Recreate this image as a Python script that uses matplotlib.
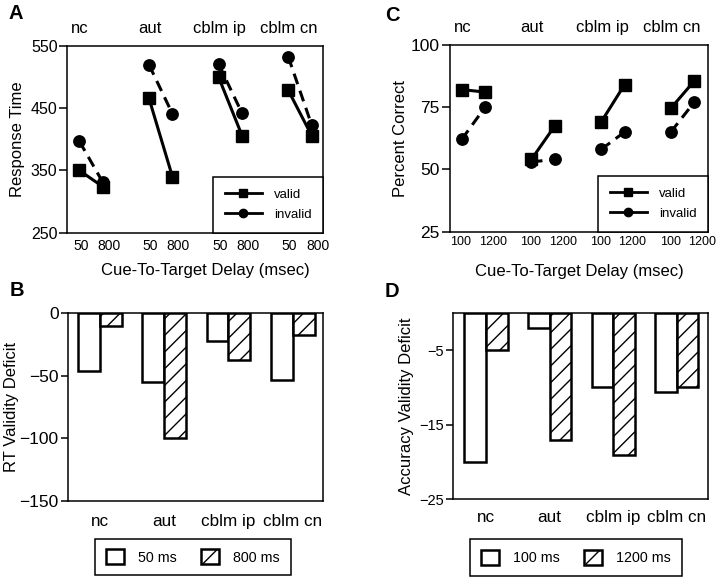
import matplotlib
matplotlib.use('Agg')
import matplotlib.pyplot as plt
import matplotlib.transforms as mtransforms
from matplotlib.lines import Line2D
import numpy as np

plt.rcParams['font.family'] = ['Liberation Sans', 'DejaVu Sans']
plt.rcParams['lines.scale_dashes'] = False
plt.rcParams['hatch.linewidth'] = 1.0
plt.rcParams['hatch.color'] = 'black'

# ---------------- data ----------------
groups = ['nc', 'aut', 'cblm ip', 'cblm cn']

rt_delays = ['50', '800']
rt_valid_short = [350, 466, 500, 479]
rt_valid_long = [324, 340, 406, 406]
rt_invalid_short = [397, 520, 521, 533]
rt_invalid_long = [331, 441, 442, 423]

acc_delays = ['100', '1200']
acc_valid_short = [82, 54, 69, 74.5]
acc_valid_long = [81, 67.5, 84, 85.5]
acc_invalid_short = [62, 53, 58, 65]
acc_invalid_long = [75, 54, 65, 77]

rt_deficit_50 = [-46, -55, -22, -53]
rt_deficit_800 = [-10, -100, -37, -17]
acc_deficit_100 = [-20, -2.1, -10, -10.6]
acc_deficit_1200 = [-5, -17, -19, -10]

# ---------------- layout ----------------
W, H = 720, 582
fig = plt.figure(figsize=(W / 100, H / 100), dpi=100)


def add_axes(l, t, r, b):
    return fig.add_axes([l / W, 1 - b / H, (r - l) / W, (b - t) / H])


axA = add_axes(67.3, 46, 323.3, 232.7)
axC = add_axes(449.7, 44.7, 708.3, 231.7)
axB = add_axes(67.7, 313.3, 323.3, 500.7)
axD = add_axes(453.3, 312.7, 708.3, 499.3)

OFF = 0.337
LW = 2.2
SPINE = 1.1


def style_spines(ax):
    for s in ax.spines.values():
        s.set_linewidth(SPINE)
        s.set_color('k')


def line_panel(ax, vs, vl, is_, il, delays, ylim, yticks, ylabel, xlim,
               ytick_size, xtick_size, xtick_pad, lab_shift, ylab_x, xlab_x,
               xlab_y, grp_y):
    for g in range(len(groups)):
        x = [g, g + OFF]
        ax.plot(x, [vs[g], vl[g]], color='k', lw=LW, marker='s', ms=8.5,
                mfc='k', mec='k', zorder=3)
        ax.plot(x, [is_[g], il[g]], color='k', lw=LW, ls=(0, (8, 5)),
                marker='o', ms=8.2, mfc='k', mec='k', zorder=4)
    ax.set_xlim(*xlim)
    ax.set_ylim(*ylim)
    ax.set_yticks(yticks)
    ticks = []
    labels = []
    for g in range(len(groups)):
        ticks += [g + lab_shift[0], g + OFF + lab_shift[1]]
        labels += delays
    ax.set_xticks(ticks)
    ax.set_xticklabels(labels)
    ax.tick_params(axis='x', length=0, pad=xtick_pad, labelsize=xtick_size)
    ax.tick_params(axis='y', direction='out', length=5.5, width=SPINE,
                   pad=1.5, labelsize=ytick_size)
    style_spines(ax)
    ax.set_ylabel(ylabel, fontsize=12)
    ax.yaxis.label.set_va('center')
    ax.yaxis.set_label_coords(ylab_x, 0.5)
    ax.set_xlabel('Cue-To-Target Delay (msec)', fontsize=12)
    ax.xaxis.label.set_va('baseline')
    ax.xaxis.set_label_coords(xlab_x, xlab_y)
    trans = mtransforms.blended_transform_factory(ax.transData, ax.transAxes)
    for g, name in enumerate(groups):
        ax.text(g + 0.012, grp_y, name, transform=trans, ha='center',
                va='baseline', fontsize=12)
    handles = [Line2D([], [], color='k', lw=2, marker='s', ms=5.5),
               Line2D([], [], color='k', lw=2, marker='o', ms=6)]
    leg = ax.legend(handles, ['valid', 'invalid'], loc='lower right',
                    borderaxespad=0, fontsize=9.5, handlelength=2.8,
                    handletextpad=0.9, borderpad=0.9, labelspacing=0.6,
                    fancybox=False, edgecolor='k', framealpha=1)
    leg.get_frame().set_linewidth(SPINE)


line_panel(axA, rt_valid_short, rt_valid_long, rt_invalid_short,
           rt_invalid_long, rt_delays, (250, 550), [250, 350, 450, 550],
           'Response Time', (-0.173, 3.504), 11.5, 10, 4.6, (0.02, 0.085),
           -0.1945, 0.541, -0.2266, 1.068)
line_panel(axC, acc_valid_short, acc_valid_long, acc_invalid_short,
           acc_invalid_long, acc_delays, (25, 100), [25, 50, 75, 100],
           'Percent Correct', (-0.172, 3.537), 12.5, 9, 3.0, (-0.01, 0.11),
           -0.192, 0.5, -0.237, 1.066)


def bar_panel(ax, d1, d2, labels, ylim, yticks, ylabel, xlim, ytick_size,
              xtick_pad, ylab_x, leg_center):
    x = np.arange(len(groups))
    w = 0.34
    b1 = ax.bar(x - w / 2, d1, w, facecolor='white', edgecolor='k', lw=1.8,
                zorder=2)
    b2 = ax.bar(x + w / 2, d2, w, facecolor='white', edgecolor='k', lw=1.8,
                hatch='//', zorder=2)
    ax.set_xlim(*xlim)
    ax.set_ylim(*ylim)
    ax.set_yticks(yticks)
    ax.set_xticks(x)
    ax.set_xticklabels(groups)
    ax.tick_params(axis='x', length=0, pad=xtick_pad, labelsize=12.3)
    ax.tick_params(axis='y', direction='out', length=5, width=SPINE,
                   pad=1.5, labelsize=ytick_size)
    style_spines(ax)
    ax.set_ylabel(ylabel, fontsize=12)
    ax.yaxis.label.set_va('center')
    ax.yaxis.set_label_coords(ylab_x, 0.5)
    leg = fig.legend([b1, b2], labels, loc='center',
                     bbox_to_anchor=(leg_center[0] / W, 1 - leg_center[1] / H),
                     ncol=2, fontsize=10.3, handlelength=1.25, handleheight=1.25,
                     handletextpad=1.0, columnspacing=1.7, borderpad=0.75,
                     fancybox=False, edgecolor='k', framealpha=1)
    leg.get_frame().set_linewidth(SPINE)


bar_panel(axB, rt_deficit_50, rt_deficit_800, ['50 ms', '800 ms'],
          (-150, 0), [-150, -100, -50, 0], 'RT Validity Deficit',
          (-0.503, 3.477), 12.5, 9.4, -0.218, (193, 557))
bar_panel(axD, acc_deficit_100, acc_deficit_1200, ['100 ms', '1200 ms'],
          (-25, 0), [-25, -15, -5], 'Accuracy Validity Deficit',
          (-0.514, 3.497), 10.5, 7.7, -0.1816, (576, 557.5))

# panel letters
for letter, (px, py) in {'A': (8.3, 19.3), 'B': (10, 295.7),
                         'C': (385, 20.7), 'D': (385, 296.7)}.items():
    fig.text(px / W, 1 - py / H, letter, fontsize=14.5, fontweight='bold',
             ha='left', va='baseline')

fig.savefig('out.png', dpi=100)
